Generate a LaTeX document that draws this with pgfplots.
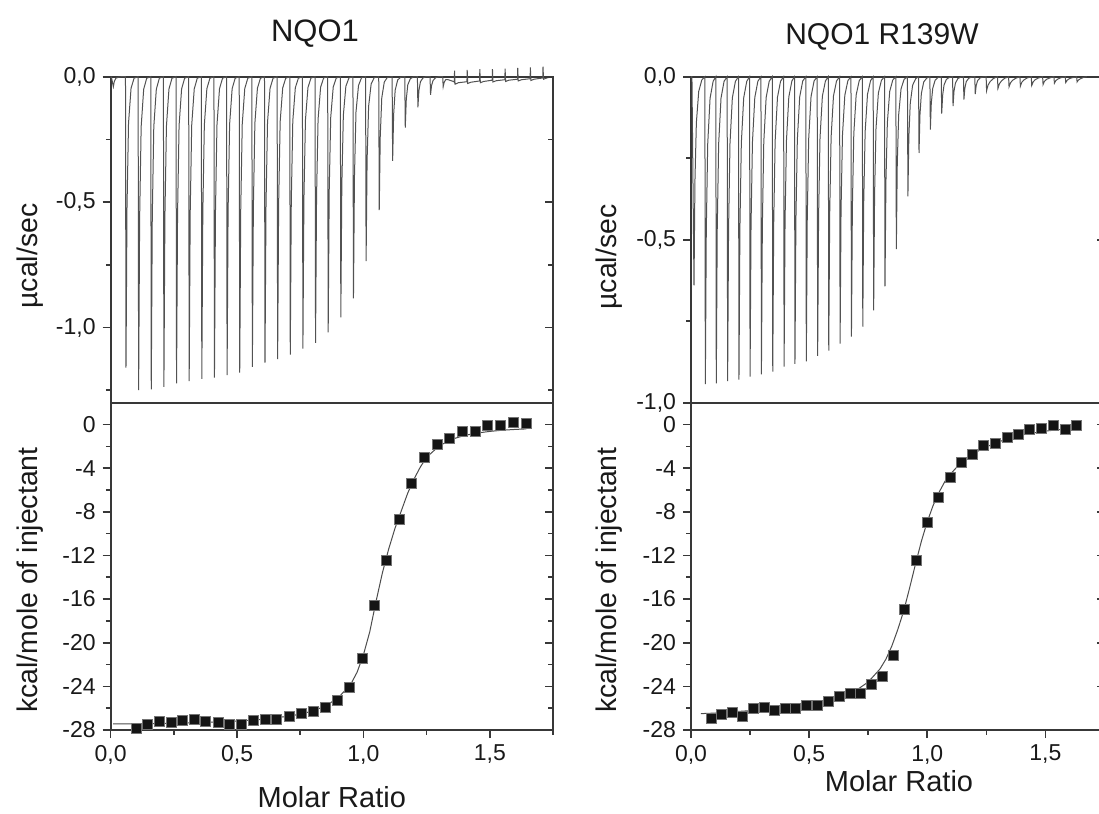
\documentclass[border=0pt]{standalone}
\usepackage{fontspec}
\setmainfont{Liberation Sans}
\usepackage{pgfplots}
\pgfplotsset{compat=1.18}
\definecolor{ax}{gray}{0.22}
\pgfplotsset{
  panel/.style={scale only axis, anchor=north west, xmin=0, xmax=1.75,
    axis line style={line width=1pt, draw=ax},
    tick style={line width=0.8pt, draw=ax},
    major tick length=4pt, minor tick length=2.4pt,
    tick label style={font=\fontsize{11.5}{13.8}\selectfont, text=black!90}},
  leftbottom/.style={panel, xtick pos=bottom, ytick pos=left, tick align=outside},
  rightticks/.style={panel, axis line style={draw=none}, xtick=\empty, xticklabels={}, yticklabels={}, ytick pos=right, tick align=inside},
  spk/.style={line width=0.5pt, black!68, no markers},
  fit/.style={line width=0.5pt, black!70, no markers},
  pts/.style={only marks, mark=square*, mark size=2.5pt, mark options={fill=black!92, draw=black!55, line width=0.3pt}},
}
\begin{document}
\begin{tikzpicture}
\useasboundingbox (0,0) rectangle (549.5pt,-407pt);
% ---------------- left top
\begin{axis}[leftbottom, at={(55.35pt,-38.35pt)}, width=221.15pt, height=163pt,
  ymin=-1.3, ymax=0, xtick=\empty, minor xtick={0.25,0.5,0.75,1,1.25,1.5},
  ytick={-1,-0.5,0}, yticklabels={{-1,0},{-0,5},{0,0}}, minor ytick={-1.25,-0.75,-0.25}, clip=false]
\addplot[spk] coordinates {
(0,0) (0.003,-0.002) (0.0105,-0.04) (0.0145,-0.018) (0.0205,-0.006) (0.0305,-0.002) (0.0425,0)
(0.0585,0) (0.0605,-1.16) (0.0645,-0.522) (0.0705,-0.186) (0.0805,-0.046) (0.0925,-0.006)
(0.1085,0) (0.1105,-1.25) (0.1145,-0.563) (0.1205,-0.2) (0.1305,-0.05) (0.1425,-0.006)
(0.1585,0) (0.1605,-1.247) (0.1645,-0.561) (0.1705,-0.2) (0.1805,-0.05) (0.1925,-0.006)
(0.2085,0) (0.2105,-1.237) (0.2145,-0.557) (0.2205,-0.198) (0.2305,-0.049) (0.2425,-0.006)
(0.2585,0) (0.2605,-1.223) (0.2645,-0.55) (0.2705,-0.196) (0.2805,-0.049) (0.2925,-0.006)
(0.3085,0) (0.3105,-1.214) (0.3145,-0.546) (0.3205,-0.194) (0.3305,-0.049) (0.3425,-0.006)
(0.3585,0) (0.3605,-1.205) (0.3645,-0.542) (0.3705,-0.193) (0.3805,-0.048) (0.3925,-0.006)
(0.4085,0) (0.4105,-1.2) (0.4145,-0.54) (0.4205,-0.192) (0.4305,-0.048) (0.4425,-0.006)
(0.4585,0) (0.4605,-1.19) (0.4645,-0.536) (0.4705,-0.19) (0.4805,-0.048) (0.4925,-0.006)
(0.5085,0) (0.5105,-1.18) (0.5145,-0.531) (0.5205,-0.189) (0.5305,-0.047) (0.5425,-0.006)
(0.5585,0) (0.5605,-1.157) (0.5645,-0.521) (0.5705,-0.185) (0.5805,-0.046) (0.5925,-0.006)
(0.6085,0) (0.6105,-1.14) (0.6145,-0.513) (0.6205,-0.182) (0.6305,-0.046) (0.6425,-0.006)
(0.6585,0) (0.6605,-1.126) (0.6645,-0.507) (0.6705,-0.18) (0.6805,-0.045) (0.6925,-0.006)
(0.7085,0) (0.7105,-1.108) (0.7145,-0.499) (0.7205,-0.177) (0.7305,-0.044) (0.7425,-0.006)
(0.7585,0) (0.7605,-1.084) (0.7645,-0.488) (0.7705,-0.173) (0.7805,-0.043) (0.7925,-0.005)
(0.8085,0) (0.8105,-1.061) (0.8145,-0.477) (0.8205,-0.17) (0.8305,-0.042) (0.8425,-0.005)
(0.8585,0) (0.8605,-1.02) (0.8645,-0.459) (0.8705,-0.163) (0.8805,-0.041) (0.8925,-0.005)
(0.9085,0) (0.9105,-0.96) (0.9145,-0.432) (0.9205,-0.154) (0.9305,-0.038) (0.9425,-0.005)
(0.9585,0) (0.9605,-0.884) (0.9645,-0.398) (0.9705,-0.141) (0.9805,-0.035) (0.9925,-0.004)
(1.0085,0) (1.0105,-0.735) (1.0145,-0.331) (1.0205,-0.118) (1.0305,-0.029) (1.0425,-0.004)
(1.0605,0) (1.0625,-0.532) (1.0665,-0.239) (1.0725,-0.085) (1.0825,-0.021) (1.0945,-0.003)
(1.1135,0) (1.1155,-0.336) (1.1195,-0.151) (1.1255,-0.054) (1.1355,-0.013) (1.1475,-0.002)
(1.1635,0) (1.1655,-0.203) (1.1695,-0.091) (1.1755,-0.032) (1.1855,-0.008) (1.1975,-0.001)
(1.2135,0) (1.2155,-0.122) (1.2195,-0.055) (1.2255,-0.02) (1.2355,-0.005) (1.2475,0)
(1.2635,0) (1.2655,-0.072) (1.2695,-0.035) (1.2755,-0.015) (1.2855,-0.004) (1.2975,0)
(1.3135,0) (1.3155,-0.04) (1.3195,-0.022) (1.3255,-0.012) (1.3355,-0.012) (1.3585,-0.02)
(1.3595,-0.022) (1.3605,0.024) (1.3625,-0.03) (1.3755,-0.024) (1.4095,-0.02)
(1.4105,0.027) (1.4125,-0.027) (1.4255,-0.022) (1.4595,-0.017)
(1.4605,0.03) (1.4625,-0.024) (1.4755,-0.019) (1.5095,-0.014)
(1.5105,0.03) (1.5125,-0.021) (1.5255,-0.016) (1.5595,-0.012)
(1.5605,0.032) (1.5625,-0.019) (1.5755,-0.014) (1.6095,-0.01)
(1.6105,0.035) (1.6125,-0.017) (1.6255,-0.012) (1.6595,-0.008)
(1.6605,0.037) (1.6625,-0.015) (1.6755,-0.01) (1.7095,-0.005)
(1.7105,0.04) (1.7125,-0.01) (1.7255,-0.005) (1.745,0)
};
\end{axis}
\begin{axis}[rightticks, at={(55.35pt,-38.35pt)}, width=221.15pt, height=163pt,
  ymin=-1.3, ymax=0, ytick={-1,-0.5,0}, minor ytick={-1.25,-0.75,-0.25}]
\addplot[draw=none] coordinates {(0,0)};
\end{axis}
% ---------------- left bottom
\begin{axis}[leftbottom, at={(55.35pt,-201.35pt)}, width=221.15pt, height=163.65pt,
  ymin=-28, ymax=2, xtick={0,0.5,1,1.5}, xticklabels={{0,0},{0,5},{1,0},{1,5}},
  minor xtick={0.25,0.75,1.25,1.75}, ytick={-28,-24,...,0},
  yticklabels={-28,-24,-20,-16,-12,-8,-4,0}, minor ytick={-26,-22,...,-2}, clip=false]
\addplot[fit] coordinates {
(0.01,-27.45) (0.1,-27.45) (0.2,-27.4) (0.3,-27.35) (0.4,-27.28) (0.5,-27.18) (0.6,-27.02)
(0.7,-26.75) (0.75,-26.55) (0.8,-26.25) (0.85,-25.8) (0.9,-25.05) (0.95,-23.8) (0.975,-22.7)
(1.0,-21.1) (1.025,-19.0) (1.05,-16.2) (1.075,-13.6) (1.1,-11.4) (1.125,-9.5) (1.15,-7.9)
(1.175,-6.3) (1.2,-5.0) (1.225,-3.9) (1.25,-3.0) (1.3,-1.95) (1.35,-1.35) (1.4,-1.0)
(1.45,-0.78) (1.5,-0.63) (1.55,-0.52) (1.6,-0.45) (1.645,-0.4)
};
\addplot[pts] coordinates {
(0.103,-27.8) (0.146,-27.5) (0.192,-27.2) (0.238,-27.3) (0.284,-27.1) (0.332,-27.0)
(0.376,-27.2) (0.424,-27.3) (0.471,-27.5) (0.517,-27.5) (0.563,-27.1) (0.611,-27.05)
(0.657,-27.05) (0.705,-26.7) (0.753,-26.5) (0.801,-26.25) (0.849,-25.95) (0.897,-25.3)
(0.946,-24.1) (0.995,-21.4) (1.043,-16.6) (1.092,-12.4) (1.142,-8.7) (1.191,-5.4)
(1.241,-3.0) (1.291,-1.8) (1.341,-1.25) (1.392,-0.6) (1.442,-0.6) (1.492,-0.03)
(1.542,-0.1) (1.592,0.18) (1.643,0.1)
};
\end{axis}
\begin{axis}[rightticks, at={(55.35pt,-201.35pt)}, width=221.15pt, height=163.65pt,
  ymin=-28, ymax=2, ytick={-28,-24,...,0}, minor ytick={-26,-22,...,-2}]
\addplot[draw=none] coordinates {(0,0)};
\end{axis}
% ---------------- right top
\begin{axis}[leftbottom, at={(345.5pt,-38.35pt)}, width=206.75pt, height=163pt,
  ymin=-1, ymax=0, xtick=\empty, minor xtick={0.25,0.5,0.75,1,1.25,1.5},
  ytick={-1,-0.5,0}, yticklabels={{-1,0},{-0,5},{0,0}}, minor ytick={-0.75,-0.25}, clip=false]
\addplot[spk] coordinates {
(0,0) (0.004,0) (0.0127,-0.64) (0.0167,-0.32) (0.0227,-0.141) (0.0327,-0.045) (0.0457,-0.01)
(0.0587,0) (0.0607,-0.943) (0.0647,-0.472) (0.0707,-0.207) (0.0807,-0.066) (0.0937,-0.014)
(0.105,0) (0.107,-0.941) (0.111,-0.47) (0.117,-0.207) (0.127,-0.066) (0.140,-0.014)
(0.153,0) (0.155,-0.934) (0.159,-0.467) (0.165,-0.205) (0.175,-0.065) (0.188,-0.014)
(0.201,0) (0.203,-0.929) (0.207,-0.465) (0.213,-0.204) (0.223,-0.065) (0.236,-0.014)
(0.248,0) (0.25,-0.92) (0.254,-0.46) (0.26,-0.202) (0.27,-0.064) (0.283,-0.014)
(0.296,0) (0.298,-0.913) (0.302,-0.457) (0.308,-0.201) (0.318,-0.064) (0.331,-0.014)
(0.344,0) (0.346,-0.905) (0.35,-0.453) (0.356,-0.199) (0.366,-0.063) (0.379,-0.014)
(0.392,0) (0.394,-0.889) (0.398,-0.445) (0.404,-0.196) (0.414,-0.062) (0.427,-0.013)
(0.438,0) (0.44,-0.881) (0.444,-0.44) (0.45,-0.194) (0.46,-0.062) (0.473,-0.013)
(0.486,0) (0.488,-0.873) (0.492,-0.437) (0.498,-0.192) (0.508,-0.061) (0.521,-0.013)
(0.534,0) (0.536,-0.856) (0.54,-0.428) (0.546,-0.188) (0.556,-0.06) (0.569,-0.013)
(0.581,0) (0.583,-0.84) (0.587,-0.42) (0.593,-0.185) (0.603,-0.059) (0.616,-0.013)
(0.629,0) (0.631,-0.819) (0.635,-0.41) (0.641,-0.18) (0.651,-0.057) (0.664,-0.012)
(0.677,0) (0.679,-0.797) (0.683,-0.399) (0.689,-0.175) (0.699,-0.056) (0.712,-0.012)
(0.725,0) (0.727,-0.767) (0.731,-0.384) (0.737,-0.169) (0.747,-0.054) (0.76,-0.012)
(0.771,0) (0.773,-0.717) (0.777,-0.359) (0.783,-0.158) (0.793,-0.05) (0.806,-0.011)
(0.819,0) (0.821,-0.643) (0.825,-0.322) (0.831,-0.141) (0.841,-0.045) (0.854,-0.01)
(0.867,0) (0.869,-0.529) (0.873,-0.265) (0.879,-0.116) (0.889,-0.037) (0.902,-0.008)
(0.916,0) (0.918,-0.367) (0.922,-0.184) (0.928,-0.081) (0.938,-0.026) (0.951,-0.006)
(0.963,0) (0.965,-0.234) (0.969,-0.117) (0.975,-0.051) (0.985,-0.016) (0.998,-0.004)
(1.011,0) (1.013,-0.162) (1.017,-0.081) (1.023,-0.036) (1.033,-0.011) (1.046,-0.002)
(1.059,0) (1.061,-0.113) (1.065,-0.057) (1.071,-0.025) (1.081,-0.008) (1.094,-0.002)
(1.107,0) (1.109,-0.09) (1.113,-0.045) (1.119,-0.02) (1.129,-0.006) (1.142,-0.001)
(1.153,0) (1.155,-0.07) (1.159,-0.035) (1.165,-0.015) (1.175,-0.005) (1.188,-0.001)
(1.201,0) (1.203,-0.053) (1.207,-0.027) (1.213,-0.012) (1.223,-0.004) (1.236,-0.001)
(1.249,0) (1.251,-0.043) (1.257,-0.026) (1.266,-0.015) (1.279,-0.006) (1.293,-0.001)
(1.297,0) (1.299,-0.036) (1.305,-0.022) (1.314,-0.013) (1.327,-0.005) (1.341,-0.001)
(1.344,0) (1.346,-0.031) (1.352,-0.019) (1.361,-0.011) (1.374,-0.005) (1.388,-0.001)
(1.392,0) (1.394,-0.029) (1.4,-0.017) (1.409,-0.01) (1.422,-0.004) (1.436,-0.001)
(1.44,0) (1.442,-0.027) (1.448,-0.016) (1.457,-0.009) (1.47,-0.004) (1.484,-0.001)
(1.488,0) (1.49,-0.024) (1.496,-0.014) (1.505,-0.008) (1.518,-0.004) (1.532,-0.001)
(1.536,0) (1.538,-0.02) (1.544,-0.012) (1.553,-0.007) (1.566,-0.003) (1.58,-0.001)
(1.584,0) (1.586,-0.018) (1.592,-0.011) (1.601,-0.006) (1.614,-0.003) (1.628,-0.001)
(1.632,0) (1.634,-0.016) (1.64,-0.01) (1.649,-0.006) (1.662,-0.002) (1.675,0)
};
\end{axis}
\begin{axis}[rightticks, at={(345.5pt,-38.35pt)}, width=206.75pt, height=163pt,
  ymin=-1, ymax=0, ytick={-1,-0.5,0}, minor ytick={-0.75,-0.25}]
\addplot[draw=none] coordinates {(0,0)};
\end{axis}
% ---------------- right bottom
\begin{axis}[leftbottom, at={(345.5pt,-201.35pt)}, width=206.75pt, height=163.65pt,
  ymin=-28, ymax=2, xtick={0,0.5,1,1.5}, xticklabels={{0,0},{0,5},{1,0},{1,5}},
  minor xtick={0.25,0.75,1.25,1.75}, ytick={-28,-24,...,0},
  yticklabels={-28,-24,-20,-16,-12,-8,-4,0}, minor ytick={-26,-22,...,-2}, clip=false]
\addplot[fit] coordinates {
(0.042,-26.5) (0.1,-26.45) (0.2,-26.3) (0.3,-26.15) (0.4,-25.95) (0.5,-25.65) (0.55,-25.45)
(0.6,-25.2) (0.65,-24.85) (0.7,-24.35) (0.75,-23.6) (0.8,-22.4) (0.825,-21.5) (0.85,-20.3)
(0.875,-18.8) (0.9,-17.1) (0.925,-15.0) (0.95,-12.8) (0.975,-10.7) (1.0,-8.9) (1.025,-7.4)
(1.05,-6.2) (1.075,-5.2) (1.1,-4.5) (1.15,-3.3) (1.2,-2.6) (1.25,-2.05) (1.3,-1.6)
(1.35,-1.25) (1.4,-0.95) (1.5,-0.6) (1.6,-0.38) (1.635,-0.33)
};
\addplot[pts] coordinates {
(0.0847,-26.9) (0.130,-26.53) (0.175,-26.41) (0.219,-26.72) (0.264,-26.04) (0.309,-25.89)
(0.354,-26.16) (0.398,-26.01) (0.443,-26.04) (0.488,-25.70) (0.533,-25.77) (0.580,-25.34)
(0.626,-24.88) (0.673,-24.60) (0.718,-24.60) (0.765,-23.81) (0.810,-23.10) (0.858,-21.11)
(0.904,-16.91) (0.952,-12.47) (0.999,-8.98) (1.047,-6.65) (1.096,-4.87) (1.144,-3.43)
(1.191,-2.73) (1.239,-1.90) (1.287,-1.69) (1.337,-1.19) (1.385,-0.92) (1.433,-0.43)
(1.483,-0.34) (1.534,-0.03) (1.583,-0.46) (1.632,-0.03)
};
\end{axis}
\begin{axis}[rightticks, at={(345.5pt,-201.35pt)}, width=206.75pt, height=163.65pt,
  ymin=-28, ymax=2, ytick={-28,-24,...,0}, minor ytick={-26,-22,...,-2}]
\addplot[draw=none] coordinates {(0,0)};
\end{axis}
% ---------------- titles and labels
\begin{scope}[every node/.style={text=black!90}]
\node[font=\fontsize{15.5}{18}\selectfont, anchor=base] at (157.5pt,-20.85pt) {NQO1};
\node[font=\fontsize{15}{18}\selectfont, anchor=base] at (441pt,-22pt) {NQO1 R139W};
\node[font=\fontsize{14.5}{17}\selectfont, anchor=base, inner sep=1pt] at (165.9pt,-403.5pt) {Molar Ratio};
\node[font=\fontsize{14.5}{17}\selectfont, anchor=base] at (449.5pt,-395.5pt) {Molar Ratio};
\node[font=\fontsize{14.2}{16}\selectfont, rotate=90, anchor=base] at (18.5pt,-128pt) {µcal/sec};
\node[font=\fontsize{14.2}{16}\selectfont, rotate=90, anchor=base] at (18.5pt,-290pt) {kcal/mole of injectant};
\node[font=\fontsize{14.2}{16}\selectfont, rotate=90, anchor=base] at (308pt,-128.5pt) {µcal/sec};
\node[font=\fontsize{14.2}{16}\selectfont, rotate=90, anchor=base] at (308pt,-290pt) {kcal/mole of injectant};
\end{scope}
\end{tikzpicture}
\end{document}
